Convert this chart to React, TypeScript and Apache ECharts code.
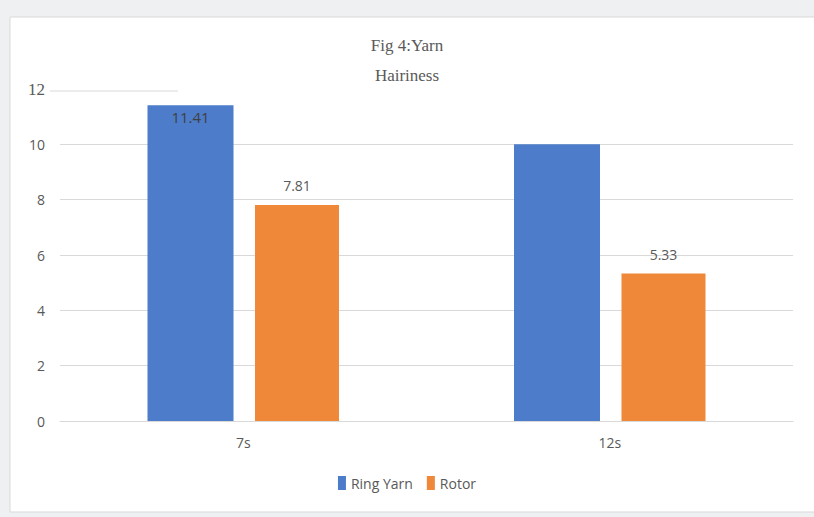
import React, { useEffect, useRef } from "react";
import * as echarts from "echarts";

const categories = ["7s", "12s"];
const ringYarn = [11.41, 10];
const rotor = [7.81, 5.33];
const yTicks = [0, 2, 4, 6, 8, 10, 12];

const SANS = "'Open Sans', 'Noto Sans', Arial, sans-serif";
const SERIF = "'Liberation Serif', 'DejaVu Serif', serif";

export default function App() {
  const ref = useRef<HTMLDivElement>(null);
  useEffect(() => {
    if (!ref.current) return;
    const chart = echarts.init(ref.current, undefined, { renderer: "svg" });
    const gridTop = 89;
    chart.setOption({
      animation: false,
      backgroundColor: "#eff0f2",
      title: {
        text: "Fig 4:Yarn\nHairiness",
        left: "center",
        top: 25,
        textStyle: {
          fontFamily: SERIF,
          fontSize: 17,
          fontWeight: "normal",
          color: "#595959",
          lineHeight: 30,
        },
      },
      graphic: [
        {
          type: "rect",
          z: -10,
          shape: { x: 10, y: 17, width: 812, height: 495 },
          style: { fill: "#ffffff", stroke: "#d9d9d9", lineWidth: 1 },
        },
        {
          type: "line",
          z: 1,
          shape: { x1: 50, y1: gridTop + 2, x2: 178, y2: gridTop + 2 },
          style: { stroke: "#d9d9d9", lineWidth: 1 },
        },
      ],
      grid: { left: 60, right: 21, top: gridTop, bottom: 96 },
      legend: {
        bottom: 22,
        left: "center",
        icon: "rect",
        itemWidth: 8,
        itemHeight: 14,
        itemGap: 14,
        textStyle: { color: "#595959", fontSize: 14, fontFamily: SANS },
        data: ["Ring Yarn", "Rotor"],
      },
      xAxis: {
        type: "category",
        data: categories,
        axisLine: { lineStyle: { color: "#d9d9d9" } },
        axisTick: { show: false },
        axisLabel: { color: "#595959", fontSize: 14, fontFamily: SANS, margin: 14 },
      },
      yAxis: {
        type: "value",
        min: 0,
        max: yTicks[yTicks.length - 1],
        interval: 2,
        axisLine: { show: false },
        axisTick: { show: false },
        splitLine: { show: true, showMaxLine: false, lineStyle: { color: "#d9d9d9" } },
        axisLabel: {
          color: "#595959",
          fontSize: 14,
          fontFamily: SANS,
          margin: 15,
          formatter: (v: number) => (v === 12 ? "{s|12}" : String(v)),
          rich: { s: { fontFamily: SERIF, fontSize: 17, color: "#595959" } },
        },
      },
      series: [
        {
          name: "Ring Yarn",
          type: "bar",
          barWidth: 86,
          barGap: "25%",
          itemStyle: { color: "#4d7cca" },
          label: { show: true, position: "top", color: "#595959", fontSize: 15, fontFamily: SANS },
          data: ringYarn.map((v, i) =>
            i === 0
              ? { value: v, label: { position: "insideTop", distance: 4, color: "#404040" } }
              : { value: v, label: { show: false } }
          ),
        },
        {
          name: "Rotor",
          type: "bar",
          barWidth: 84,
          itemStyle: { color: "#ef8838" },
          label: {
            show: true,
            position: "top",
            distance: 12,
            color: "#595959",
            fontSize: 14,
            fontFamily: SANS,
          },
          data: rotor,
        },
      ],
    });
    return () => chart.dispose();
  }, []);
  return (
    <div
      ref={ref}
      style={{ position: "absolute", left: 0, top: 0, width: 814, height: 517 }}
    />
  );
}
